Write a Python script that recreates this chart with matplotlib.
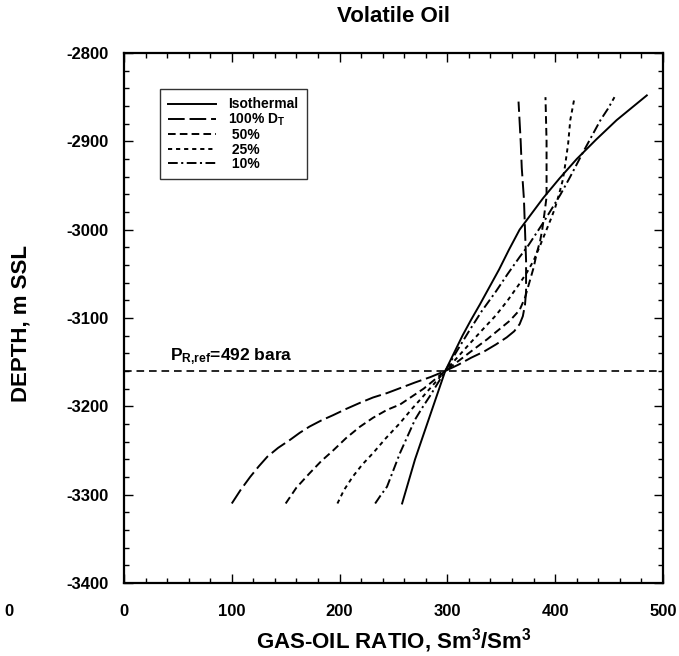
import matplotlib
matplotlib.use("Agg")
import matplotlib.pyplot as plt
from matplotlib.ticker import MultipleLocator

plt.rcParams["font.family"] = ["Liberation Sans", "DejaVu Sans"]
plt.rcParams["font.weight"] = "bold"
plt.rcParams["mathtext.fontset"] = "custom"
plt.rcParams["mathtext.rm"] = "Liberation Sans:bold"
plt.rcParams["mathtext.it"] = "Liberation Sans:bold"
plt.rcParams["mathtext.bf"] = "Liberation Sans:bold"
plt.rcParams["mathtext.default"] = "rm"
plt.rcParams["axes.unicode_minus"] = False
plt.rcParams["lines.scale_dashes"] = False

# data (GOR in Sm3/Sm3, depth in m SSL)
iso_gor = [258, 264, 270, 277, 284, 291, 298, 306, 314, 322, 330, 339, 348, 357, 367, 378, 389,
           404, 420, 438, 457, 472, 485]
iso_depth = [-3310, -3285, -3260, -3235, -3210, -3185, -3160, -3140, -3120, -3102, -3085, -3065,
             -3045, -3023, -3000, -2982, -2964, -2942, -2920, -2898, -2876, -2861, -2848]

dt100_gor = [100, 108, 117, 125, 133, 143, 154, 163, 172, 183, 194, 206, 219, 231, 244, 257, 270,
             284, 298, 310, 322, 334, 345, 355, 362, 367, 370, 372, 373, 373, 372, 371, 369, 368, 366]
dt100_depth = [-3310, -3295, -3280, -3268, -3257, -3247, -3238, -3230, -3223, -3216, -3210, -3203,
               -3196, -3190, -3185, -3179, -3173, -3167, -3160, -3153, -3145, -3138, -3130, -3122,
               -3115, -3107, -3098, -3085, -3070, -3035, -3000, -2965, -2930, -2900, -2855]

dt50_gor = [150, 160, 172, 183, 194, 206, 219, 231, 244, 256, 267, 278, 288, 298, 311, 325, 337,
            348, 358, 367, 372, 376, 380, 383, 386, 388, 390, 392, 392, 392, 391]
dt50_depth = [-3310, -3292, -3276, -3262, -3250, -3236, -3223, -3213, -3204, -3198, -3189, -3180,
              -3170, -3160, -3148, -3135, -3124, -3113, -3103, -3091, -3077, -3060, -3043, -3026,
              -3013, -3000, -2982, -2963, -2930, -2900, -2850]

dt25_gor = [198, 204, 212, 221, 231, 243, 256, 267, 278, 288, 298, 309, 320, 332, 345, 356, 367,
            374, 380, 386, 392, 396, 400, 404, 407, 409, 412, 414, 416, 418]
dt25_depth = [-3310, -3295, -3280, -3266, -3253, -3236, -3219, -3203, -3188, -3174, -3160, -3145,
              -3130, -3114, -3097, -3080, -3061, -3048, -3035, -3018, -3000, -2988, -2975, -2958,
              -2944, -2929, -2903, -2876, -2863, -2850]

dt10_gor = [233, 238, 244, 250, 256, 263, 270, 277, 284, 291, 298, 309, 320, 332, 345, 356, 367,
            375, 382, 389, 395, 405, 414, 420, 426, 434, 442, 449, 455]
dt10_depth = [-3310, -3301, -3291, -3272, -3253, -3234, -3215, -3201, -3188, -3174, -3160, -3137,
              -3115, -3092, -3070, -3050, -3031, -3018, -3005, -2992, -2980, -2960, -2940, -2926,
              -2912, -2894, -2876, -2863, -2850]

ref_depth = -3160
ref_label = r"P$_{R{,}ref}$=492 bara"

series_labels = ["Isothermal", r"100% D$_{T}$", " 50%", " 25%", " 10%"]

fig = plt.figure(figsize=(6.79, 6.56), dpi=100)
ax = fig.add_axes([0.1826, 0.1113, 0.7938, 0.8079])

lw = 1.4
ax.plot(iso_gor, iso_depth, color="black", lw=lw, label=series_labels[0])
ax.plot(dt100_gor, dt100_depth, color="black", lw=lw, dashes=(12, 3.5), label=series_labels[1])
ax.plot(dt50_gor, dt50_depth, color="black", lw=lw, dashes=(5.5, 3), label=series_labels[2])
ax.plot(dt25_gor, dt25_depth, color="black", lw=lw, dashes=(3, 2.8), label=series_labels[3])
ax.plot(dt10_gor, dt10_depth, color="black", lw=lw, dashes=(7, 2.5, 1.5, 2.5), label=series_labels[4])

ax.axhline(ref_depth, color="black", lw=1.2, dashes=(5.5, 3.5))
ax.text(43, ref_depth + 4, ref_label, fontsize=12.5, fontweight="bold", va="bottom", ha="left")

ax.set_xlim(0, 500)
ax.set_ylim(-3400, -2800)
ax.xaxis.set_major_locator(MultipleLocator(100))
ax.xaxis.set_minor_locator(MultipleLocator(20))
ax.yaxis.set_major_locator(MultipleLocator(100))
ax.yaxis.set_minor_locator(MultipleLocator(20))
ax.tick_params(which="both", direction="in", top=True, right=True, width=1.0, labelsize=12)
ax.tick_params(which="major", length=6.5)
ax.tick_params(which="minor", length=3.5)
ax.tick_params(axis="x", which="major", pad=15)
ax.tick_params(axis="y", which="major", pad=11)
for lbl in ax.get_xticklabels() + ax.get_yticklabels():
    lbl.set_fontweight("bold")
for sp in ax.spines.values():
    sp.set_linewidth(1.6)

ax.set_title("Volatile Oil", fontsize=16, fontweight="bold", pad=22)
ax.set_xlabel(r"GAS-OIL RATIO, Sm$^{3}$/Sm$^{3}$", fontsize=16, fontweight="bold")
ax.set_ylabel("DEPTH, m SSL", fontsize=16, fontweight="bold")
ax.xaxis.set_label_coords(0.5, -0.108)
ax.xaxis.label.set_va("center")
ax.yaxis.set_label_coords(-0.191, 0.49)
ax.yaxis.label.set_va("center")

leg = ax.legend(loc="upper left", bbox_to_anchor=(0.067, 0.932), fontsize=10, frameon=True,
                fancybox=False, edgecolor="black", handlelength=3.4, borderpad=0.6,
                labelspacing=0.02, handletextpad=0.9, borderaxespad=0)
leg.get_frame().set_linewidth(1.0)
for t in leg.get_texts():
    t.set_fontweight("bold")

# stray label from the neighbouring panel in the original figure
fig.text(9 / 679, 1 - 612 / 656, "0", fontsize=12, fontweight="bold", ha="center", va="center")

fig.savefig("out.png", dpi=100)
